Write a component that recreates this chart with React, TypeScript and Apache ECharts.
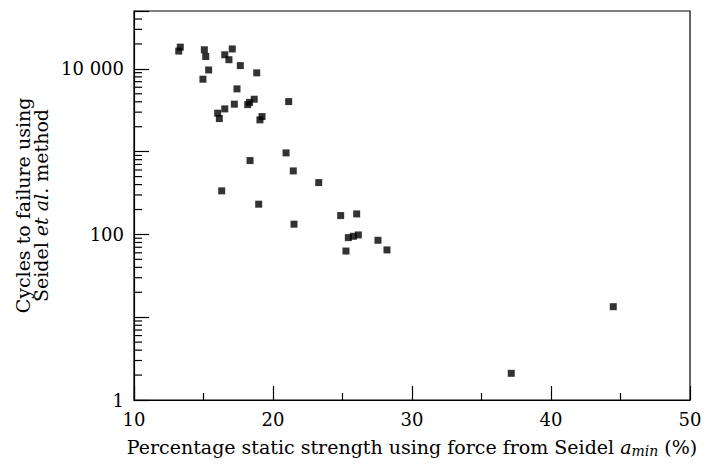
import React, { useEffect, useRef } from "react";
import * as echarts from "echarts";

const strengthPct: number[] = [
  13.33, 13.22, 15.06, 15.16, 15.37, 14.96, 16.53, 16.83, 17.07, 17.65,
  18.83, 17.41, 17.22, 16.53, 16.02, 16.14, 18.18, 18.31, 18.65, 21.13,
  19.21, 19.06, 20.94, 18.35, 21.46, 23.29, 16.31, 18.97, 21.51, 24.87,
  26.02, 25.42, 25.78, 26.14, 27.55, 25.25, 28.2, 44.48, 37.14,
];
const cyclesToFailure: number[] = [
  18300, 16400, 17000, 14100, 9700, 7500, 14800, 12900, 17400, 10950,
  8950, 5730, 3745, 3285, 2915, 2510, 3700, 3937, 4300, 4025,
  2652, 2420, 966, 780, 585, 423, 336, 232, 133, 169,
  177, 91.5, 95, 98.6, 85, 63, 65, 13.4, 2.1,
];
const yLabelValues: number[] = [1, 100, 10000];
const yLabelTexts: string[] = ["1", "100", "10 000"];
const yMinorTicks: number[] = [
  2, 3, 4, 5, 6, 7, 8, 9,
  20, 30, 40, 50, 60, 70, 80, 90,
  200, 300, 400, 500, 600, 700, 800, 900,
  2000, 3000, 4000, 5000, 6000, 7000, 8000, 9000,
  20000, 30000, 40000,
];

const FONT = "DejaVu Serif";

export default function App() {
  const ref = useRef<HTMLDivElement>(null);
  useEffect(() => {
    if (!ref.current) return;
    const chart = echarts.init(ref.current, null, { renderer: "svg" });
    const points = strengthPct.map((x, i) => [x, cyclesToFailure[i]]);
    chart.setOption({
      animation: false,
      backgroundColor: "#fff",
      grid: {
        left: 134,
        right: 18,
        top: 11,
        bottom: 64,
        outerBoundsMode: "none",
        containLabel: false,
        show: true,
        borderColor: "#000",
        borderWidth: 1.2,
        backgroundColor: "transparent",
      },
      xAxis: {
        type: "value",
        min: 10,
        max: 50,
        interval: 10,
        name: "Percentage static strength using force from Seidel {i|a}{sub|min} (%)",
        nameLocation: "middle",
        nameGap: 36,
        nameTextStyle: {
          fontFamily: FONT,
          fontSize: 19,
          lineHeight: 22,
          color: "#000",
          rich: {
            i: { fontFamily: FONT, fontSize: 19, lineHeight: 22, fontStyle: "italic", color: "#000" },
            sub: {
              fontFamily: FONT,
              fontSize: 14,
              lineHeight: 12,
              verticalAlign: "bottom",
              fontStyle: "italic",
              color: "#000",
            },
          },
        },
        axisLine: { lineStyle: { color: "#000", width: 1.2 } },
        axisTick: { inside: true, length: 14, lineStyle: { color: "#000", width: 1.2 } },
        minorTick: { show: true, splitNumber: 2, length: 7, lineStyle: { color: "#000", width: 1.2 } },
        splitLine: { show: false },
        axisLabel: { fontFamily: FONT, fontSize: 18, color: "#000", margin: 10 },
      },
      yAxis: {
        type: "log",
        logBase: 10,
        min: 1,
        max: 50000,
        name: "{a|Cycles to failure using}\n{a|Seidel }{i|et al.}{a| method}",
        nameLocation: "middle",
        nameGap: 80,
        nameRotate: 90,
        nameTextStyle: {
          fontFamily: FONT,
          fontSize: 19,
          color: "#000",
          align: "center",
          rich: {
            a: { fontFamily: FONT, fontSize: 19, color: "#000", lineHeight: 18 },
            i: { fontFamily: FONT, fontSize: 19, fontStyle: "italic", color: "#000", lineHeight: 18 },
          },
        },
        axisLine: { lineStyle: { color: "#000", width: 1.2 } },
        axisTick: { inside: true, length: 15, lineStyle: { color: "#000", width: 1.2 } },
        splitLine: { show: false },
        axisLabel: {
          fontFamily: FONT,
          fontSize: 18,
          color: "#000",
          margin: 10,
          formatter: (v: number) => {
            for (let k = 0; k < yLabelValues.length; k++) {
              if (Math.abs(Math.log10(v) - Math.log10(yLabelValues[k])) < 1e-6) return yLabelTexts[k];
            }
            return "";
          },
        },
      },
      series: [
        {
          type: "scatter",
          data: points,
          symbol: "rect",
          symbolSize: 7,
          itemStyle: { color: "#000" },
          silent: true,
        },
        {
          type: "custom",
          silent: true,
          clip: false,
          data: yMinorTicks.map((v) => [10, v]),
          encode: { x: 0, y: 1 },
          renderItem: (_params: any, api: any) => {
            const p = api.coord([api.value(0), api.value(1)]);
            return {
              type: "line",
              shape: { x1: p[0], y1: p[1], x2: p[0] + 8, y2: p[1] },
              style: { stroke: "#000", lineWidth: 1.2 },
            };
          },
        },
      ],
    });
    return () => chart.dispose();
  }, []);
  return <div ref={ref} style={{ width: 708, height: 464, position: "absolute", left: 0, top: 0 }} />;
}
